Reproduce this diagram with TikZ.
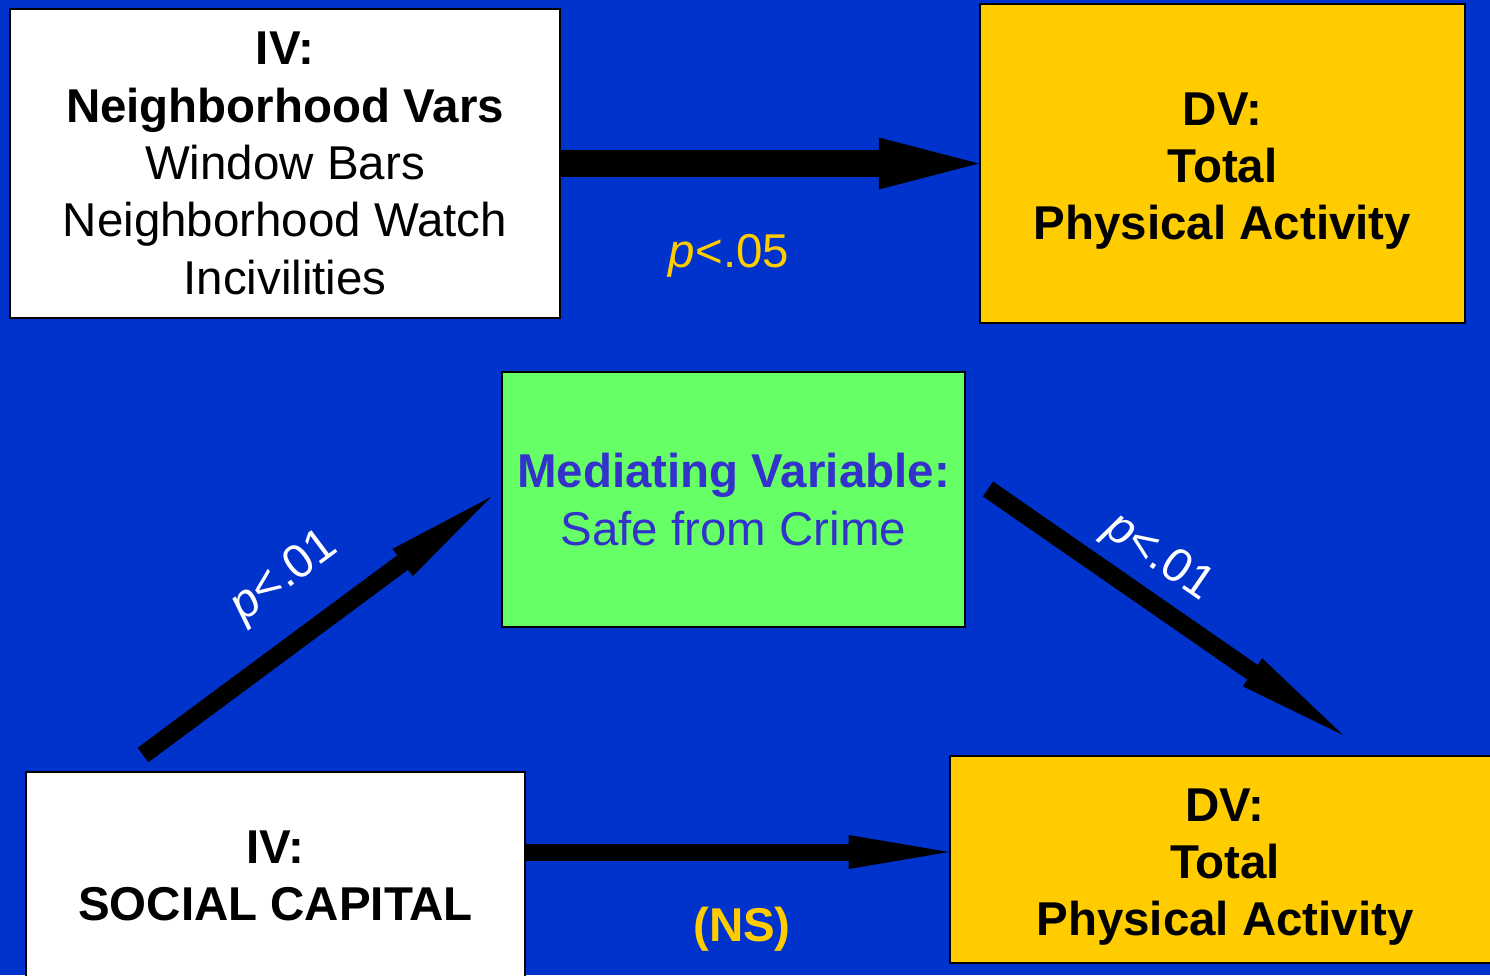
\documentclass[tikz,border=0pt]{standalone}
\usepackage{fontspec}
\setmainfont{Liberation Sans}
\usetikzlibrary{arrows.meta,positioning}

\definecolor{bgblue}{HTML}{0033CC}
\definecolor{dvgold}{HTML}{FFCC00}
\definecolor{medgreen}{HTML}{66FF66}
\definecolor{medtext}{HTML}{3333CC}

\tikzset{
  varbox/.style={draw=black, line width=0.6pt, inner sep=0pt, align=center,
    font=\fontsize{13.5}{16.3}\selectfont},
  plabel/.style={font=\fontsize{13.5}{16.3}\selectfont},
  bigarrow/.style={line width=0.18cm, -{Triangle[length=1.1cm, width=0.34cm, line width=0pt]}}
}
\newcommand{\dvlift}{\rule{0pt}{13.7pt}}

\begin{document}
\begin{tikzpicture}[x=0.01cm, y=-0.01cm]
            \fill[bgblue] (0,0) rectangle (1490,975);
            \useasboundingbox (0,0) rectangle (1490,975);
            % boxes
            \node[varbox, fill=white, minimum width=5.5cm, minimum height=3.09cm] (nbhd) at (285,163.5)
              {\textbf{IV:}\\ \textbf{Neighborhood Vars}\\ Window Bars\\ Neighborhood Watch\\ Incivilities};
            \node[varbox, fill=dvgold, minimum width=4.85cm, minimum height=3.19cm] (dvtop) at (1222.5,163.5)
              {\dvlift\textbf{DV:}\\ \textbf{Total}\\ \textbf{Physical Activity}};
            \node[varbox, fill=medgreen, text=medtext, minimum width=4.63cm, minimum height=2.55cm] (safe) at (733.5,499.5)
              {\textbf{Mediating Variable:}\\ Safe from Crime};
            \node[varbox, fill=white, minimum width=4.99cm, minimum height=2.08cm] (social) at (275.5,876)
              {\textbf{IV:}\\ \textbf{SOCIAL CAPITAL}};
            \node[varbox, fill=dvgold, minimum width=5.5cm, minimum height=2.07cm] (dvbot) at (1225,859.5)
              {\dvlift\textbf{DV:}\\ \textbf{Total}\\ \textbf{Physical Activity}};
            % arrows
            \draw[line width=0.27cm, -{Triangle[length=1cm, width=0.52cm, line width=0pt]}] (nbhd.east) -- (dvtop.west);
            \coordinate (nsrow) at (737,852);
            \draw[line width=0.17cm, -{Triangle[length=1cm, width=0.34cm, line width=0pt]}] (social.east |- nsrow) -- (dvbot.west |- nsrow);
            \coordinate (socout) at (143,755);
            \coordinate (safein) at (491,497);
            \coordinate (safeout) at (988,489);
            \coordinate (dvin) at (1343,735);
            \draw[bigarrow] (socout) -- (safein);
            \draw[bigarrow] (safeout) -- (dvin);
            % labels
            \node[plabel, text=dvgold] (p05) at (729,256) {\textit{p}<.05};
            \node[plabel, text=dvgold] (ns) at (742,929) {\textbf{(NS)}};
            \node[plabel, text=white, rotate=36.7] (p01a) at (285,577) {\textit{p}<.01};
            \node[plabel, text=white, rotate=-34.7] (p01b) at (1158,558) {\textit{p}<.01};
        \end{tikzpicture}
\end{document}
